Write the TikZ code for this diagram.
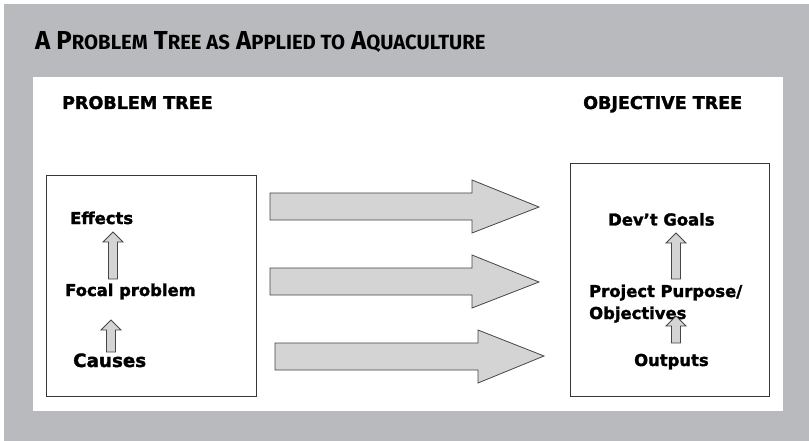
\documentclass[tikz,border=0pt]{standalone}
\usepackage{fontspec}
\setmainfont{DejaVu Sans}[BoldFeatures={FakeBold=1.8}]
\newfontfamily\titlefont{Fira Sans}
\definecolor{panelgray}{RGB}{185,186,190}
\definecolor{arrowfill}{RGB}{212,212,212}
\definecolor{arrowline}{RGB}{70,70,70}
\definecolor{boxline}{RGB}{55,55,55}
\newcommand{\tsc}[1]{{\fontsize{20.5}{22}\selectfont #1}}
\begin{document}
\begin{tikzpicture}[x=1pt,y=-1pt,
  heading/.style={anchor=base west,inner sep=0pt,font=\bfseries\fontsize{17.5}{20}\selectfont},
  label/.style={anchor=base west,inner sep=0pt,font=\bfseries\fontsize{16.4}{19}\selectfont},
  biglabel/.style={anchor=base west,inner sep=0pt,font=\bfseries\fontsize{18.3}{21}\selectfont},
  treebox/.style={draw=boxline,line width=0.9pt,fill=white},
  blockarrow/.style={draw=arrowline,fill=arrowfill,line width=0.8pt,line join=miter}]
\useasboundingbox (0,0) rectangle (809,441);
\fill[white] (0,0) rectangle (809,441);
\fill[panelgray] (4,4) rectangle (809,441);
\fill[white] (33,77) rectangle (783,411);
% title
\node[anchor=base west,inner sep=0pt] (title) at (35,50)
  {\scalebox{0.99}[1]{\titlefont\bfseries\fontsize{26}{28}\selectfont A P\tsc{ROBLEM} T\tsc{REE AS} A\tsc{PPLIED TO} A\tsc{QUACULTURE}}};
% headings
\node[heading] (ph) at (62,109) {PROBLEM TREE};
\node[heading] (oh) at (583,109) {OBJECTIVE TREE};
% boxes
\draw[treebox] (46,175) rectangle (256,396);
\draw[treebox] (570,163) rectangle (769,396);
% left texts
\node[label] (eff) at (70,224) {Effects};
\node[label] (foc) at (65,296) {Focal problem};
\node[biglabel] (cau) at (73,367) {Causes};
% right texts
\node[label] (dev) at (608,225.5) {Dev’t Goals};
\node[label] (pp) at (589,297) {Project Purpose/};
\node[label] (obj) at (589,319) {Objectives};
\node[label] (out) at (634,366) {Outputs};
% small up arrows
\draw[blockarrow] (108.5,279) -- (108.5,242) -- (103,242) -- (113,232) -- (123,242) -- (117.5,242) -- (117.5,279) -- cycle;
\draw[blockarrow] (106.5,352) -- (106.5,330) -- (101,330) -- (111,320) -- (121,330) -- (115.5,330) -- (115.5,352) -- cycle;
\draw[blockarrow] (671.5,279) -- (671.5,243) -- (666,243) -- (676,233) -- (686,243) -- (680.5,243) -- (680.5,279) -- cycle;
\draw[blockarrow] (671.5,343) -- (671.5,326) -- (666,326) -- (676,316) -- (686,326) -- (680.5,326) -- (680.5,343) -- cycle;
% big right arrows
\draw[blockarrow] (270,193) -- (472,193) -- (472,180) -- (539,207) -- (472,233) -- (472,220) -- (270,220) -- cycle;
\draw[blockarrow] (270,268) -- (472,268) -- (472,255) -- (539,282) -- (472,308) -- (472,295) -- (270,295) -- cycle;
\draw[blockarrow] (275,343) -- (478,343) -- (478,330) -- (544,356) -- (478,383) -- (478,370) -- (275,370) -- cycle;
\end{tikzpicture}
\end{document}
